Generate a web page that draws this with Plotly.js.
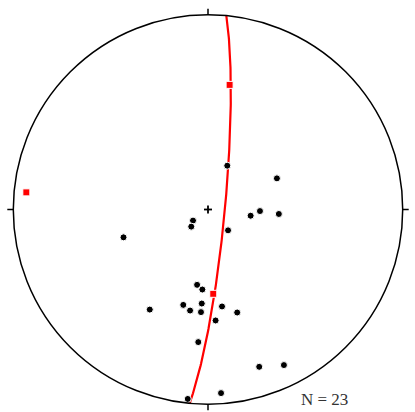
<!DOCTYPE html>
<html>
<head>
<meta charset="utf-8">
<script src="https://cdn.plot.ly/plotly-3.0.1.min.js"></script>
<style>html,body{margin:0;padding:0;background:#fff;}#chart{width:415px;height:412px;}</style>
</head>
<body>
<div id="chart"></div>
<script>
// Poles, projected (equal-area, lower hemisphere), in units of net radius: east, north
var poleEast  = [0.099, 0.354, 0.267, 0.219, 0.364, -0.077, -0.086, 0.103, -0.434, -0.056, -0.029, -0.299,
                 -0.127, -0.032, -0.092, -0.036, 0.072, 0.150, 0.039, -0.050, 0.263, 0.390, 0.067, -0.104];
var poleNorth = [0.225, 0.160, -0.008, -0.032, -0.023, -0.057, -0.088, -0.107, -0.143, -0.387, -0.411, -0.514,
                 -0.490, -0.483, -0.519, -0.527, -0.498, -0.529, -0.570, -0.681, -0.808, -0.799, -0.943, -0.973];
// Eigenvectors (projected)
var eigEast  = [0.111, 0.027, -0.933];
var eigNorth = [0.640, -0.433, 0.088];
// Best-fit girdle plane (degrees)
var girdleStrike = 5.4;
var girdleDip = 83;
var countLabel = "N = 23";

function project(trend, plunge) {
  var d = Math.PI / 180;
  var r = Math.SQRT2 * Math.sin((90 - plunge) * d / 2);
  return [r * Math.sin(trend * d), r * Math.cos(trend * d)];
}
var gx = [], gy = [];
(function () {
  var d = Math.PI / 180, s = girdleStrike * d, dp = girdleDip * d;
  for (var a = 0; a <= 180; a += 1) {
    var ca = Math.cos(a * d), sa = Math.sin(a * d);
    var n = ca * Math.cos(s) + sa * Math.cos(dp) * Math.cos(s + Math.PI / 2);
    var e = ca * Math.sin(s) + sa * Math.cos(dp) * Math.sin(s + Math.PI / 2);
    var dn = sa * Math.sin(dp);
    var plunge = Math.asin(Math.min(1, dn)) / d;
    var trend = Math.atan2(e, n) / d;
    var p = project(trend, plunge);
    gx.push(p[0]); gy.push(p[1]);
  }
})();

var R = 194.7, cx = 208, cy = 209.5, W = 415, H = 412;
var xr = [(0 - cx) / R, (W - cx) / R];
var yr = [(cy - H) / R, cy / R];
var t = 6 / R, c = 4 / R;

var traces = [
  {x: gx, y: gy, mode: 'lines', line: {color: '#ff0000', width: 2.2}, hoverinfo: 'skip'},
  {x: poleEast, y: poleNorth, mode: 'markers', marker: {symbol: 'circle', size: 7, color: '#000', line: {color: '#fff', width: 1}}},
  {x: eigEast, y: eigNorth, mode: 'markers', marker: {symbol: 'square', size: 7, color: '#ff0000', line: {color: '#fff', width: 1}}}
];

var lineS = {color: '#000', width: 1.5};
var crossS = {color: '#000', width: 1.8};
var layout = {
  width: W, height: H,
  margin: {l: 0, r: 0, t: 0, b: 0},
  paper_bgcolor: '#fff', plot_bgcolor: '#fff',
  showlegend: false,
  xaxis: {range: xr, visible: false, fixedrange: true},
  yaxis: {range: yr, visible: false, fixedrange: true},
  shapes: [
    {type: 'circle', xref: 'x', yref: 'y', x0: -1, x1: 1, y0: -1, y1: 1, line: lineS},
    {type: 'line', x0: 0, x1: 0, y0: 1, y1: 1 + t, line: lineS},
    {type: 'line', x0: 0, x1: 0, y0: -1, y1: -1 - t, line: lineS},
    {type: 'line', x0: 1, x1: 1 + t, y0: 0, y1: 0, line: lineS},
    {type: 'line', x0: -1, x1: -1 - t, y0: 0, y1: 0, line: lineS},
    {type: 'line', x0: -c, x1: c, y0: 0, y1: 0, line: crossS},
    {type: 'line', x0: 0, x1: 0, y0: -c, y1: c, line: crossS}
  ],
  annotations: [
    {x: (324.5 - cx) / R, y: (cy - 399) / R, xref: 'x', yref: 'y', text: countLabel, showarrow: false,
     font: {family: 'Liberation Serif, Times New Roman, serif', size: 17, color: '#333'}}
  ]
};
Plotly.newPlot('chart', traces, layout, {staticPlot: true, displayModeBar: false});
</script>
</body>
</html>
